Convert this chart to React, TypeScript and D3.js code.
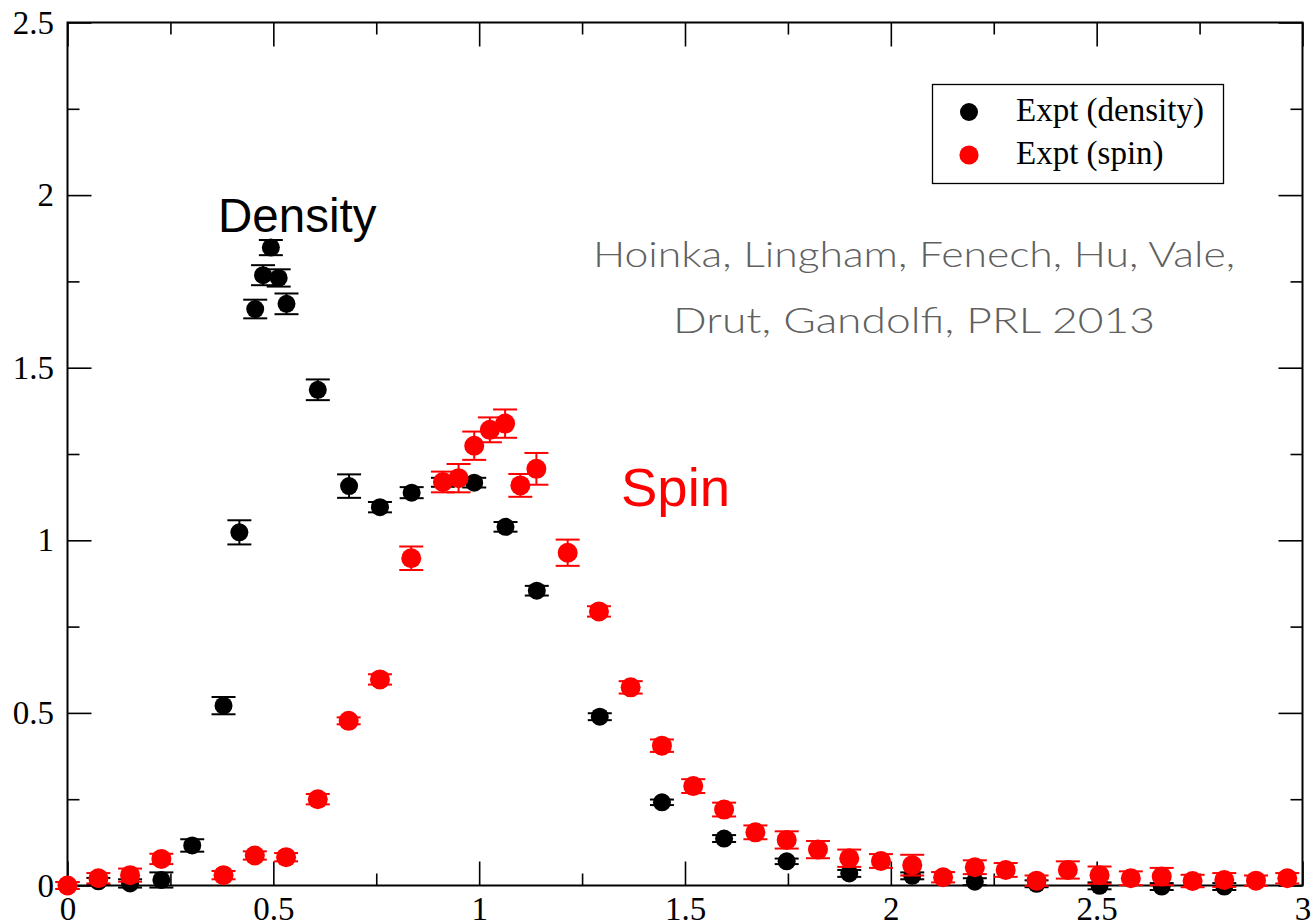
import React, { useEffect, useRef } from 'react';
import * as d3 from 'd3';

// density data (black)
const densityK = [0, 0.075, 0.152, 0.228, 0.303, 0.379, 0.4175, 0.456, 0.475, 0.494, 0.513, 0.532, 0.608, 0.684, 0.759, 0.836, 0.912, 0.988, 1.064, 1.14, 1.293, 1.444, 1.595, 1.747, 1.899, 2.052, 2.204, 2.354, 2.507, 2.658, 2.81];
const densityS = [0.0, 0.012, 0.006, 0.016, 0.116, 0.521, 1.023, 1.67, 1.768, 1.848, 1.76, 1.685, 1.436, 1.157, 1.096, 1.138, 1.168, 1.167, 1.039, 0.854, 0.489, 0.241, 0.136, 0.07, 0.035, 0.028, 0.011, 0.005, -0.001, -0.003, -0.003];
const densityErr = [0.01, 0.01, 0.012, 0.022, 0.018, 0.025, 0.035, 0.027, 0.029, 0.022, 0.025, 0.03, 0.03, 0.034, 0.015, 0.016, 0.013, 0.014, 0.014, 0.014, 0.01, 0.008, 0.01, 0.008, 0.01, 0.01, 0.01, 0.01, 0.01, 0.01, 0.01];

// spin data (red)
const spinK = [0, 0.075, 0.152, 0.228, 0.379, 0.455, 0.531, 0.608, 0.683, 0.759, 0.835, 0.912, 0.95, 0.988, 1.026, 1.063, 1.1, 1.139, 1.215, 1.291, 1.368, 1.444, 1.52, 1.595, 1.671, 1.747, 1.823, 1.899, 1.976, 2.052, 2.127, 2.204, 2.279, 2.354, 2.43, 2.507, 2.583, 2.658, 2.733, 2.81, 2.887, 2.963];
const spinS = [0, 0.021, 0.03, 0.077, 0.03, 0.087, 0.082, 0.25, 0.477, 0.597, 0.948, 1.169, 1.18, 1.274, 1.32, 1.338, 1.159, 1.207, 0.964, 0.794, 0.574, 0.405, 0.288, 0.22, 0.154, 0.132, 0.104, 0.079, 0.071, 0.059, 0.024, 0.053, 0.045, 0.014, 0.045, 0.03, 0.021, 0.026, 0.013, 0.016, 0.014, 0.021];
const spinErr = [0.01, 0.015, 0.019, 0.015, 0.012, 0.012, 0.012, 0.015, 0.01, 0.015, 0.034, 0.03, 0.041, 0.041, 0.036, 0.041, 0.033, 0.046, 0.038, 0.015, 0.018, 0.018, 0.02, 0.02, 0.02, 0.025, 0.025, 0.025, 0.02, 0.03, 0.015, 0.02, 0.02, 0.015, 0.025, 0.025, 0.02, 0.025, 0.018, 0.02, 0.015, 0.015];

const xTicks = [0, 0.5, 1, 1.5, 2, 2.5, 3];
const yTicks = [0, 0.5, 1, 1.5, 2, 2.5];
const xMinor = [0.25, 0.75, 1.25, 1.75, 2.25, 2.75];
const yMinor = [0.25, 0.75, 1.25, 1.75, 2.25];

const legendLabels = ['Expt (density)', 'Expt (spin)'];
const citation = ['Hoinka, Lingham, Fenech, Hu, Vale,', 'Drut, Gandolfi, PRL 2013'];

const W = 1314, H = 924;
const margin = { top: 22.5, right: 11.5, bottom: 38.5, left: 67.5 };
const serif = '"Liberation Serif", "Times New Roman", Times, serif';
const sans = '"Liberation Sans", Arial, Helvetica, sans-serif';

export default function App() {
  const ref = useRef<SVGSVGElement>(null);

  useEffect(() => {
    const svg = d3.select(ref.current);
    svg.selectAll('*').remove();
    const width = W - margin.left - margin.right;
    const height = H - margin.top - margin.bottom;

    const x = d3.scaleLinear().domain([0, 3]).range([0, width]);
    const y = d3.scaleLinear().domain([0, 2.5]).range([height, 0]);

    const g = svg.append('g').attr('transform', `translate(${margin.left},${margin.top})`);

    const styleAxis = (sel: any) => {
      sel.select('.domain').remove();
      sel.selectAll('line').attr('stroke', '#000').attr('stroke-width', 1.6);
      sel.selectAll('text').attr('font-family', serif).attr('font-size', 33).attr('fill', '#000');
    };

    // bottom
    g.append('g').attr('transform', `translate(0,${height})`)
      .call(d3.axisBottom(x).tickValues(xTicks).tickSize(-24).tickPadding(11).tickFormat(d3.format('')))
      .call(styleAxis);
    g.append('g').attr('transform', `translate(0,${height})`)
      .call(d3.axisBottom(x).tickValues(xMinor).tickSize(-12).tickFormat(() => ''))
      .call(styleAxis);
    // top
    g.append('g')
      .call(d3.axisTop(x).tickValues(xTicks).tickSize(-24).tickFormat(() => ''))
      .call(styleAxis);
    g.append('g')
      .call(d3.axisTop(x).tickValues(xMinor).tickSize(-12).tickFormat(() => ''))
      .call(styleAxis);
    // left
    g.append('g')
      .call(d3.axisLeft(y).tickValues(yTicks).tickSize(-24).tickPadding(13.5).tickFormat(d3.format('')))
      .call(styleAxis);
    g.append('g')
      .call(d3.axisLeft(y).tickValues(yMinor).tickSize(-12).tickFormat(() => ''))
      .call(styleAxis);
    // right
    g.append('g').attr('transform', `translate(${width},0)`)
      .call(d3.axisRight(y).tickValues(yTicks).tickSize(-24).tickFormat(() => ''))
      .call(styleAxis);
    g.append('g').attr('transform', `translate(${width},0)`)
      .call(d3.axisRight(y).tickValues(yMinor).tickSize(-12).tickFormat(() => ''))
      .call(styleAxis);

    // frame
    g.append('rect').attr('width', width).attr('height', height)
      .attr('fill', 'none').attr('stroke', '#000').attr('stroke-width', 2);

    const drawSet = (ks: number[], vs: number[], es: number[], color: string, r: number) => {
      const data = ks.map((k, i) => ({ k, v: vs[i], e: es[i] }));
      const cap = 12;
      const eb = g.append('g').attr('stroke', color).attr('stroke-width', 2);
      eb.selectAll('.v').data(data).enter().append('line')
        .attr('x1', d => x(d.k)).attr('x2', d => x(d.k))
        .attr('y1', d => y(d.v - d.e)).attr('y2', d => y(d.v + d.e));
      eb.selectAll('.t').data(data).enter().append('line')
        .attr('x1', d => x(d.k) - cap).attr('x2', d => x(d.k) + cap)
        .attr('y1', d => y(d.v + d.e)).attr('y2', d => y(d.v + d.e));
      eb.selectAll('.b').data(data).enter().append('line')
        .attr('x1', d => x(d.k) - cap).attr('x2', d => x(d.k) + cap)
        .attr('y1', d => y(d.v - d.e)).attr('y2', d => y(d.v - d.e));
      g.append('g').selectAll('circle').data(data).enter().append('circle')
        .attr('cx', d => x(d.k)).attr('cy', d => y(d.v)).attr('r', r).attr('fill', color);
    };

    drawSet(densityK, densityS, densityErr, '#000', 9);
    drawSet(spinK, spinS, spinErr, '#ff0000', 10);

    // legend
    svg.append('rect').attr('x', 932.5).attr('y', 84.5).attr('width', 291).attr('height', 99)
      .attr('fill', '#fff').attr('stroke', '#000').attr('stroke-width', 1.3);
    const legColors = ['#000', '#ff0000'];
    legendLabels.forEach((t, i) => {
      svg.append('circle').attr('cx', 969).attr('cy', 112 + i * 43).attr('r', 9 + i * 0.6).attr('fill', legColors[i]);
      svg.append('text').attr('x', 1016).attr('y', 121 + i * 42.5)
        .attr('font-family', serif).attr('font-size', 33).text(t);
    });

    // labels
    svg.append('text').attr('x', 218).attr('y', 232).attr('font-family', sans)
      .attr('font-size', 47.5).attr('fill', '#000').text('Density');
    svg.append('text').attr('x', 621).attr('y', 506).attr('font-family', sans)
      .attr('font-size', 54.5).attr('fill', '#ff0000').text('Spin');

    const citeLen = [642, 482];
    citation.forEach((t, i) => {
      svg.append('text').attr('x', 914).attr('y', 267 + i * 66).attr('text-anchor', 'middle')
        .attr('font-family', 'Lato, "Open Sans", sans-serif').attr('font-weight', 300)
        .attr('font-size', 36).attr('fill', '#606060')
        .attr('textLength', citeLen[i]).attr('lengthAdjust', 'spacingAndGlyphs').text(t);
    });
  }, []);

  return (
    <svg ref={ref} width={W} height={H}
      style={{ position: 'absolute', left: 0, top: 0, background: '#fff', display: 'block' }} />
  );
}
